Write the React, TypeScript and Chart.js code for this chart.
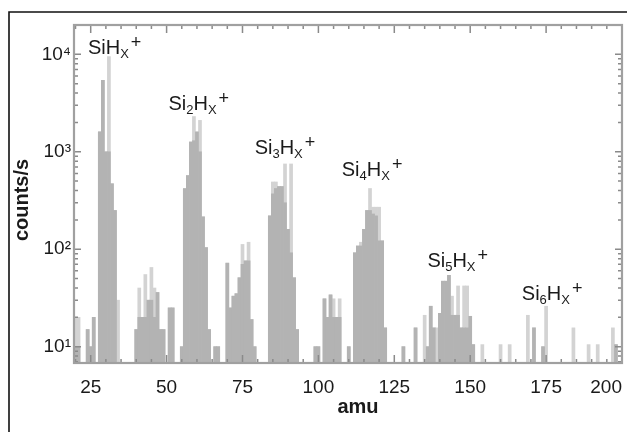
import React, { useEffect, useRef } from 'react';
import { Chart, registerables } from 'chart.js';

Chart.register(...registerables);

// mass bins (amu) that carry counts
const amu = [
  20, 21, 24, 25, 26, 28, 29, 30, 31, 32, 33, 34,
  40, 41, 42, 43, 44, 45, 46, 47, 48, 49, 51, 52,
  55, 56, 57, 58, 59, 60, 61, 62, 63, 64, 66, 67,
  70, 71, 72, 73, 74, 75, 76, 77, 78, 79,
  84, 85, 86, 87, 88, 89, 90, 91, 92, 93,
  99, 100, 102, 103, 104, 105, 106, 107,
  110, 112, 113, 114, 115, 116, 117, 118, 119, 120, 121, 122, 128,
  132, 135, 136, 137, 138, 139, 140, 141, 142, 143, 144, 145, 146, 147, 148, 149, 150, 151, 154,
  160, 163, 169, 171, 174, 175, 184, 189, 192, 197, 198,
];

// full bar height (light grey)
const countsTotal = [
  20, 20, 15, 10, 20, 1600, 5400, 1000, 9500, 470, 250, 30,
  15, 40, 20, 55, 30, 65, 40, 36, 15, 15, 25, 25,
  10, 420, 570, 1260, 2300, 1600, 2100, 215, 104, 15, 10, 10,
  72, 25, 33, 35, 51, 112, 76, 118, 19, 10,
  220, 490, 490, 440, 440, 750, 160, 750, 51, 15,
  10, 10, 31, 20, 34, 31, 20, 31,
  10, 92, 108, 118, 160, 250, 420, 270, 270, 270, 122, 15.6, 10,
  15.6, 21, 10, 26, 15.6, 15.6, 22, 47, 47, 54, 33, 21, 42, 15.6, 42, 42, 20.5, 10.5, 10.5,
  10.5, 10.5, 21, 15.6, 10, 26, 15.6, 10.5, 10.5, 15.6, 10.5,
];

// darker part of each bar (null = light only)
const countsCore = [
  10, 10, 15, 10, 20, 1600, 5400, 1000, 1000, 470, 250, null,
  15, 20, 20, 20, 30, 30, 20, 36, 15, 15, 25, 25,
  10, 420, 570, 1260, 1300, 1600, 1000, 215, 104, 15, 10, 10,
  72, 25, 33, 35, 51, 70, 76, 76, 19, 10,
  220, 370, 420, 440, 440, 300, 160, 92, 51, 15,
  10, 10, 31, 20, 34, 20, 20, 20,
  10, 92, 108, 108, 160, 250, 250, 230, 220, 122, 122, 15.6, 10,
  15.6, null, 10, 26, 15.6, null, 22, 47, 47, 54, 21, 21, 21, 15.6, 15.6, 15.6, 20.5, 10.5, null,
  null, null, null, 15.6, 10, null, null, null, null, null, 10.5,
];

const xTickValues = [25, 50, 75, 100, 125, 150, 175, 200];
const yTickValues = [10, 100, 1000, 10000];
const yTickLabels = ['10¹', '10²', '10³', '10⁴'];

// ion group labels: Si_n H_X +
const ionSubscripts = ['', '2', '3', '4', '5', '6'];
const ionAmu = [24.1, 50.6, 79.0, 107.7, 135.9, 167.0];
const ionCounts = [10000, 2700, 953, 568, 65.6, 30.3];

const xTitle = 'amu';
const yTitle = 'counts/s';

const FAMILY = '"Liberation Sans", Arial, Helvetica, sans-serif';
const TEXT = '#1a1a1a';

function drawIon(ctx: CanvasRenderingContext2D, x: number, y: number, n: string) {
  ctx.textAlign = 'left';
  ctx.textBaseline = 'alphabetic';
  ctx.fillStyle = TEXT;
  const big = `20px ${FAMILY}`;
  const small = `13px ${FAMILY}`;
  const sup = `18px ${FAMILY}`;
  ctx.font = big;
  ctx.fillText('Si', x, y);
  x += ctx.measureText('Si').width;
  if (n) {
    ctx.font = small;
    ctx.fillText(n, x, y + 4);
    x += ctx.measureText(n).width;
  }
  ctx.font = big;
  ctx.fillText('H', x, y);
  x += ctx.measureText('H').width;
  ctx.font = small;
  ctx.fillText('X', x, y + 4);
  x += ctx.measureText('X').width + 2;
  ctx.font = sup;
  ctx.fillText('+', x, y - 6);
}

const decorPlugin = {
  id: 'decor',
  afterDatasetsDraw(chart: any) {
    const { ctx, chartArea: a, scales } = chart;
    const xs = scales.x;
    const ys = scales.y;
    ctx.save();
    // inward tick marks on all four sides
    ctx.strokeStyle = '#8a8a8a';
    ctx.lineWidth = 1.5;
    ctx.beginPath();
    for (let v = 20; v <= 200; v += 5) {
      const px = xs.getPixelForValue(v);
      const len = v % 25 === 0 ? 8 : 4;
      ctx.moveTo(px, a.bottom);
      ctx.lineTo(px, a.bottom - len);
      ctx.moveTo(px, a.top);
      ctx.lineTo(px, a.top + len);
    }
    for (let e = 0; e <= 4; e++) {
      for (let k = 1; k <= 9; k++) {
        const v = k * Math.pow(10, e);
        if (v < ys.min || v > ys.max) continue;
        const py = ys.getPixelForValue(v);
        const len = k === 1 ? 7 : 4;
        ctx.moveTo(a.left, py);
        ctx.lineTo(a.left + len, py);
        ctx.moveTo(a.right, py);
        ctx.lineTo(a.right - len, py);
      }
    }
    ctx.stroke();
    // plot frame
    ctx.strokeStyle = '#a0a0a0';
    ctx.lineWidth = 2.2;
    ctx.strokeRect(a.left, a.top, a.right - a.left, a.bottom - a.top);
    // ion labels
    for (let i = 0; i < ionAmu.length; i++) {
      drawIon(ctx, xs.getPixelForValue(ionAmu[i]), ys.getPixelForValue(ionCounts[i]), ionSubscripts[i]);
    }
    // axis titles
    ctx.fillStyle = TEXT;
    ctx.font = `bold 20px ${FAMILY}`;
    ctx.textAlign = 'center';
    ctx.textBaseline = 'middle';
    ctx.fillText(xTitle, (a.left + a.right) / 2 + 10, a.bottom + 44);
    ctx.save();
    ctx.translate(14, (a.top + a.bottom) / 2 + 6);
    ctx.rotate(-Math.PI / 2);
    ctx.fillText(yTitle, 0, 0);
    ctx.restore();
    ctx.restore();
  },
  afterDraw(chart: any) {
    const { ctx } = chart;
    ctx.save();
    ctx.strokeStyle = '#111';
    ctx.lineWidth = 1.6;
    ctx.beginPath();
    ctx.moveTo(1, chart.height);
    ctx.lineTo(1, 4);
    ctx.lineTo(chart.width, 4);
    ctx.stroke();
    ctx.restore();
  },
};

export default function App() {
  const ref = useRef<HTMLCanvasElement | null>(null);

  useEffect(() => {
    if (!ref.current) return;
    const chart = new Chart(ref.current, {
      type: 'bar',
      data: {
        datasets: [
          {
            label: 'core',
            data: amu.map((a, i) => ({ x: a, y: countsCore[i] })) as any,
            backgroundColor: '#b3b3b3',
            borderWidth: 0,
            grouped: false,
            order: 0,
            barPercentage: 1,
            categoryPercentage: 1,
          } as any,
          {
            label: 'total',
            data: amu.map((a, i) => ({ x: a, y: countsTotal[i] })) as any,
            backgroundColor: '#d3d3d3',
            borderWidth: 0,
            grouped: false,
            order: 1,
            barPercentage: 1,
            categoryPercentage: 1,
          } as any,
        ],
      },
      options: {
        animation: false,
        responsive: false,
        devicePixelRatio: 1,
        layout: { padding: { top: 17, right: 6, left: 0, bottom: 0 } },
        plugins: { legend: { display: false }, tooltip: { enabled: false } },
        font: { family: FAMILY },
        scales: {
          x: {
            type: 'linear',
            min: 19.5,
            max: 200,
            offset: false,
            grid: { display: false, drawTicks: false, tickLength: 0 },
            border: { display: false },
            ticks: {
              stepSize: 5,
              autoSkip: false,
              maxRotation: 0,
              align: 'inner',
              padding: 13,
              color: TEXT,
              font: { family: FAMILY, size: 19 },
              callback: (v: any) => (xTickValues.includes(Number(v)) ? String(v) : ''),
            },
            afterFit: (s: any) => {
              s.height = 69;
            },
          },
          y: {
            type: 'logarithmic',
            min: 6.8,
            max: 20000,
            grid: { display: false, drawTicks: false, tickLength: 0 },
            border: { display: false },
            ticks: {
              autoSkip: false,
              padding: 3,
              color: TEXT,
              font: { family: FAMILY, size: 19 },
              callback: (v: any) => {
                const n = Number(v);
                const i = yTickValues.findIndex((t) => Math.abs(n - t) / t < 1e-6);
                return i >= 0 ? yTickLabels[i] : '';
              },
            },
            afterFit: (s: any) => {
              s.width = 66;
            },
          },
        },
      } as any,
      plugins: [decorPlugin],
    });
    return () => chart.destroy();
  }, []);

  return <canvas ref={ref} width={627} height={424} style={{ display: 'block' }} />;
}
